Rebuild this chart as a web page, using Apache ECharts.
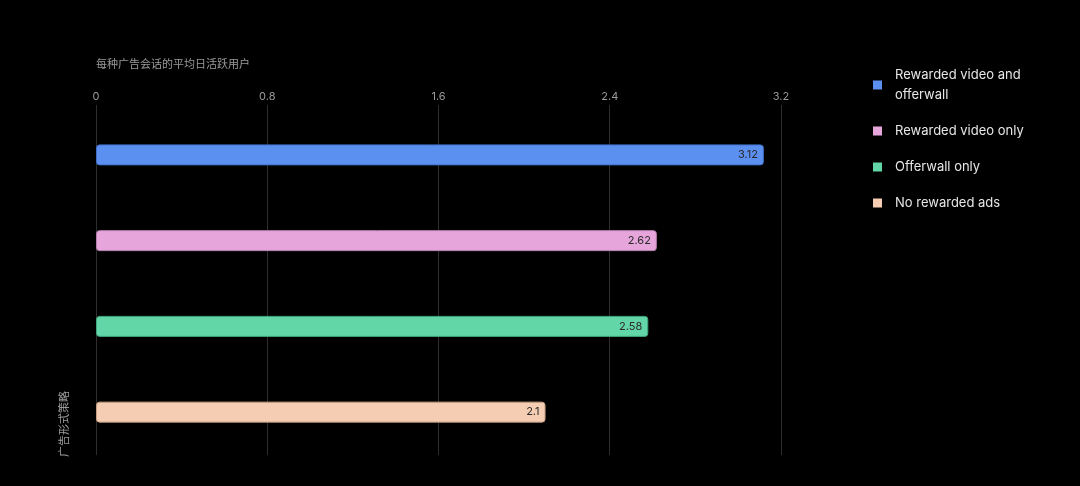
<!DOCTYPE html>
<html>
<head>
<meta charset="utf-8">
<script src="https://cdn.jsdelivr.net/npm/echarts@6/dist/echarts.min.js"></script>
<style>
html,body{margin:0;padding:0;background:#000;}
#chart{width:1080px;height:486px;}
</style>
</head>
<body>
<div id="chart"></div>
<script>
const categories = ['Rewarded video and offerwall', 'Rewarded video only', 'Offerwall only', 'No rewarded ads'];
const values = [3.12, 2.62, 2.58, 2.1];
const colors = ['#5b8ff0', '#e6a6dc', '#62d6a6', '#f4cdb3'];
const borderColors = ['#3f6ec4', '#b57fab', '#3fa57c', '#c39c82'];
const xTicks = [0, 0.8, 1.6, 2.4, 3.2];
const titleText = '每种广告会话的平均日活跃用户';
const yName = '广告形式策略';

const chart = echarts.init(document.getElementById('chart'));
const series = categories.map((c, i) => ({
  name: c,
  type: 'bar',
  stack: 'all',
  barWidth: 21,
  data: categories.map((_, j) => j === i ? values[i] : '-'),
  itemStyle: {
    color: colors[i],
    borderColor: borderColors[i],
    borderWidth: 1,
    borderRadius: 3
  },
  label: {
    show: true,
    position: 'insideRight',
    color: '#2a2a2a',
    fontSize: 11,
    fontFamily: 'Inter',
    distance: 6
  }
}));

chart.setOption({
  backgroundColor: '#000',
  animation: false,
  title: {
    text: titleText,
    left: 96,
    top: 58,
    padding: 0,
    textStyle: { color: '#9a9a9a', fontSize: 11, fontWeight: 'normal', fontFamily: 'Noto Sans CJK SC' }
  },
  legend: {
    orient: 'vertical',
    left: 868,
    top: 60,
    itemWidth: 9,
    itemHeight: 9,
    itemGap: 16,
    icon: 'rect',
    data: categories,
    itemStyle: { borderWidth: 0 },
    textStyle: {
      color: '#e6e6e6',
      fontSize: 13,
      fontFamily: 'Inter',
      width: 135,
      overflow: 'break',
      lineHeight: 20,
      padding: [0, 0, 0, 8]
    }
  },
  grid: { left: 96, right: 299, top: 112, bottom: 31 },
  xAxis: {
    type: 'value',
    position: 'top',
    min: 0,
    max: 3.2,
    interval: 0.8,
    axisLine: { show: false },
    axisTick: { show: true, length: 7, lineStyle: { color: '#2e2e2e' } },
    axisLabel: {
      color: '#9a9a9a',
      fontSize: 11,
      fontFamily: 'Inter',
      margin: 10,
      formatter: v => xTicks.includes(+v.toFixed(1)) ? String(+v.toFixed(1)) : ''
    },
    splitLine: { show: true, lineStyle: { color: '#2e2e2e', width: 1 } }
  },
  yAxis: {
    type: 'category',
    inverse: true,
    data: categories,
    axisLine: { show: false },
    axisTick: { show: false },
    axisLabel: { show: false },
    splitLine: { show: false }
  },
  graphic: [{
    type: 'text',
    left: 58,
    top: 391,
    rotation: Math.PI / 2,
    style: {
      text: yName,
      fill: '#9a9a9a',
      fontSize: 11,
      fontFamily: 'Noto Sans CJK SC'
    }
  }],
  series: series
});
</script>
</body>
</html>
